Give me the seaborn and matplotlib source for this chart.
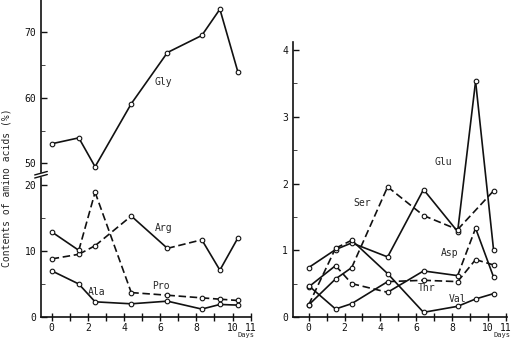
import matplotlib
matplotlib.use("Agg")
import matplotlib.pyplot as plt
import seaborn as sns

sns.set_style("ticks")
plt.rcParams["font.family"] = ["DejaVu Sans Mono", "DejaVu Sans"]

# sampling days
DAYS = [0, 1.5, 2.4, 4.4, 6.4, 8.3, 9.3, 10.3]
SER_DAYS = [0, 1.5, 2.4, 4.4, 6.4, 8.3, 10.3]

# left panel (%)
GLY = [53.0, 53.9, 49.5, 59.1, 66.9, 69.5, 73.5, 63.9]
ARG = [8.8, 9.5, 10.8, 15.3, 10.4, 11.7, 7.1, 12.0]
PRO = [12.9, 10.1, 18.9, 3.7, 3.3, 2.9, 2.7, 2.5]
ALA = [7.0, 5.0, 2.3, 2.0, 2.4, 1.2, 1.9, 1.8]

# right panel (%)
GLU = [0.74, 1.01, 1.11, 0.90, 1.91, 1.28, 3.53, 1.01]
SER = [0.18, 0.57, 0.74, 1.95, 1.52, 1.31, 1.89]
ASP = [0.45, 0.77, 0.50, 0.37, 0.69, 0.62, 1.33, 0.60]
THR = [0.47, 0.12, 0.20, 0.53, 0.55, 0.53, 0.86, 0.78]
VAL = [0.18, 1.03, 1.15, 0.65, 0.07, 0.16, 0.27, 0.35]

XTICK_LABELS = ["0", "", "2", "", "4", "", "6", "", "8", "", "10", "11"]

S = "-"
D = (0, (4.5, 2.2))


def draw(ax, x, y, styles):
    # each segment gets its own line style, like the scanned figure
    for i, ls in enumerate(styles):
        sns.lineplot(x=x[i:i + 2], y=y[i:i + 2], ax=ax, color="#111111",
                     lw=1.2, linestyle=ls, sort=False, estimator=None)
    sns.scatterplot(x=x, y=y, ax=ax, marker="o", s=11, color="white",
                    edgecolor="#111111", linewidth=0.8, zorder=5)


def style_axis(ax):
    sns.despine(ax=ax)
    ax.tick_params(axis="both", labelsize=7, width=1.0, colors="#111111")
    ax.tick_params(axis="y", direction="in", length=4)
    ax.tick_params(axis="y", which="minor", direction="in", length=3)
    for sp in ax.spines.values():
        sp.set_linewidth(1.2)
        sp.set_color("#111111")
    ax.set_xlabel("")
    ax.set_ylabel("")


fig = plt.figure(figsize=(5.14, 3.39), dpi=100)
W, H = 514, 339


def box(x0, y0, x1, y1):
    return [x0 / W, 1 - y1 / H, (x1 - x0) / W, (y1 - y0) / H]


ax_top = fig.add_axes(box(41, 0, 251, 172))
ax_bot = fig.add_axes(box(41, 178, 251, 317))
ax_r = fig.add_axes(box(293, 42, 507, 317))

# left upper: Gly
draw(ax_top, DAYS, GLY, [S] * 7)
ax_top.set_ylim(48.7, 74.9)
ax_top.set_xlim(-0.59, 11.02)
ax_top.set_yticks([50, 60, 70])
ax_top.set_yticks([55, 65], minor=True)
style_axis(ax_top)
ax_top.spines["bottom"].set_visible(False)
ax_top.set_xticks([])
ax_top.text(6.15, 62.4, "Gly", fontsize=7, ha="center", va="center")

# left lower: Arg, Pro, Ala
draw(ax_bot, DAYS, ARG, [D, D, D, S, D, S, S])
draw(ax_bot, DAYS, PRO, [S, D, D, D, D, D, D])
draw(ax_bot, DAYS, ALA, [S] * 7)
ax_bot.set_ylim(0, 21.06)
ax_bot.set_xlim(-0.59, 11.02)
ax_bot.set_yticks([0, 10, 20])
ax_bot.set_yticks([5, 15], minor=True)
style_axis(ax_bot)
ax_bot.set_xticks(range(12))
ax_bot.set_xticklabels(XTICK_LABELS)
ax_bot.tick_params(axis="x", direction="inout", length=6, pad=1)
ax_bot.text(6.2, 13.5, "Arg", fontsize=7, ha="center", va="center")
ax_bot.text(2.5, 3.8, "Ala", fontsize=7, ha="center", va="center")
ax_bot.text(6.05, 4.7, "Pro", fontsize=7, ha="center", va="center")

# axis break marks
for dy in (0.0, 0.022):
    ax_bot.plot([-0.03, 0.03], [1.0 + dy, 1.025 + dy], transform=ax_bot.transAxes,
                color="#111111", lw=1.0, clip_on=False)

# right panel
draw(ax_r, DAYS, GLU, [S] * 7)
draw(ax_r, SER_DAYS, SER, [S, S, D, D, D, D])
draw(ax_r, DAYS, ASP, [S, D, D, S, S, D, S])
draw(ax_r, DAYS, THR, [S, S, S, D, D, D, D])
draw(ax_r, DAYS, VAL, [D, D, S, S, S, S, S])
ax_r.set_ylim(0, 4.12)
ax_r.set_xlim(-0.87, 11.05)
ax_r.set_yticks([0, 1, 2, 3, 4])
ax_r.set_yticks([0.5, 1.5, 2.5, 3.5], minor=True)
style_axis(ax_r)
ax_r.set_xticks(range(12))
ax_r.set_xticklabels(XTICK_LABELS)
ax_r.tick_params(axis="x", direction="inout", length=6, pad=1)
ax_r.text(7.5, 2.32, "Glu", fontsize=7, ha="center", va="center")
ax_r.text(2.99, 1.71, "Ser", fontsize=7, ha="center", va="center")
ax_r.text(7.83, 0.96, "Asp", fontsize=7, ha="center", va="center")
ax_r.text(6.55, 0.43, "Thr", fontsize=7, ha="center", va="center")
ax_r.text(8.28, 0.27, "Val", fontsize=7, ha="center", va="center")

fig.text(7 / W, 1 - 188 / H, "Contents of amino acids (%)", rotation=90,
         fontsize=7, ha="center", va="center")
fig.text(238 / W, 1 - 338.5 / H, "Days", fontsize=5, ha="left", va="bottom")
fig.text(494 / W, 1 - 338.5 / H, "Days", fontsize=5, ha="left", va="bottom")

fig.savefig("out.png", dpi=100)
